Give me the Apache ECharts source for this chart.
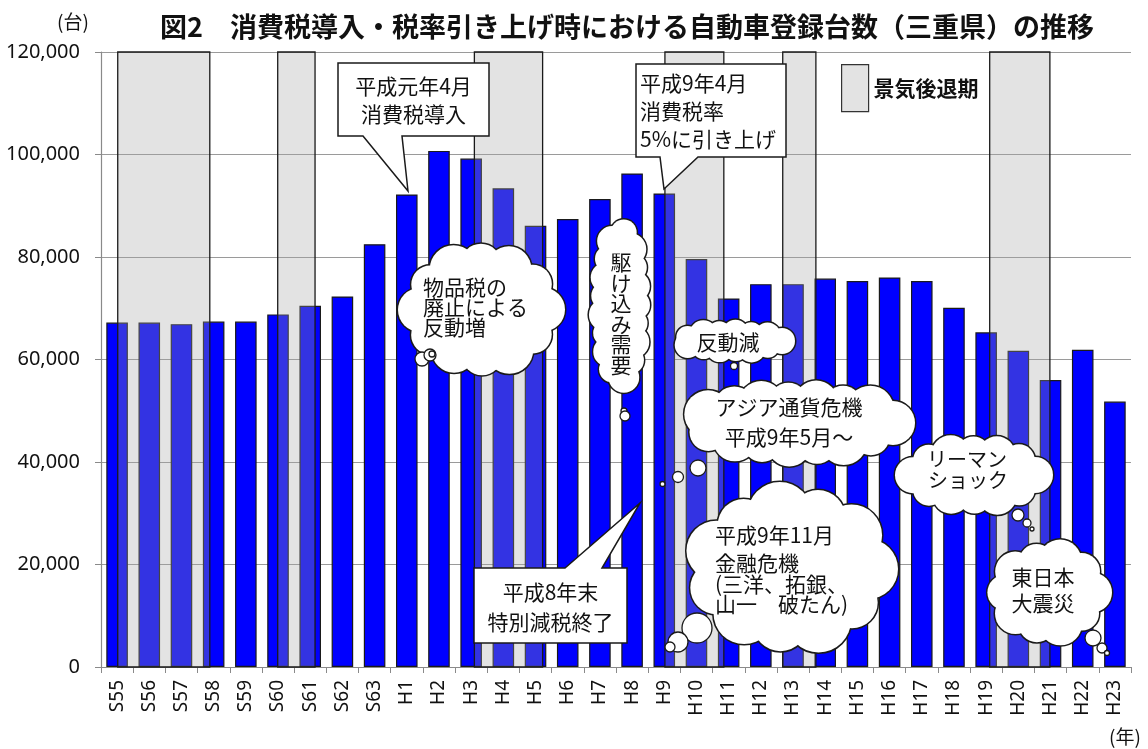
<!DOCTYPE html>
<html>
<head>
<meta charset="utf-8">
<script src="https://cdn.jsdelivr.net/npm/echarts@6/dist/echarts.min.js"></script>
<style>
  html, body { margin: 0; padding: 0; background: #fff; }
  #chart { width: 1148px; height: 749px; }
</style>
</head>
<body>
<div id="chart"></div>
<script>
// 年次（昭和55年〜平成23年）
const years = ['S55','S56','S57','S58','S59','S60','S61','S62','S63',
  'H1','H2','H3','H4','H5','H6','H7','H8','H9','H10','H11','H12','H13',
  'H14','H15','H16','H17','H18','H19','H20','H21','H22','H23'];

// 自動車登録台数（三重県, 台）
const registrations = [67200, 67200, 66900, 67400, 67400, 68800, 70500, 72300, 82500,
  92200, 100700, 99200, 93400, 86100, 87400, 91300, 96300, 92400, 79600, 71900, 74700, 74700,
  75800, 75300, 76000, 75300, 70100, 65300, 61700, 56000, 61900, 51800];

// 景気後退期（カテゴリ位置：開始, 終了）
const recessions = [[0.52, 3.38], [5.49, 6.65], [11.6, 13.72], [17.52, 19.35], [21.18, 22.21], [27.61, 29.48]];

// 縦軸の目盛
const yTicks = [0, 20000, 40000, 60000, 80000, 100000, 120000];

const JP = '"Noto Sans CJK JP", "Noto Sans", sans-serif';
const INK = '#111111';

// --- 雲形吹き出しの部品 ---
function cloud(x0, y0, x1, y1, r) {
  const cx = (x0 + x1) / 2, cy = (y0 + y1) / 2;
  const a = (x1 - x0) / 2 - r, b = (y1 - y0) / 2 - r;
  const N = 720, pts = [], len = [0];
  for (let i = 0; i <= N; i++) {
    const t = Math.PI * 2 * i / N;
    pts.push([cx + a * Math.cos(t), cy + b * Math.sin(t)]);
    if (i > 0) {
      const dx = pts[i][0] - pts[i - 1][0], dy = pts[i][1] - pts[i - 1][1];
      len.push(len[i - 1] + Math.sqrt(dx * dx + dy * dy));
    }
  }
  const total = len[N];
  const n = Math.max(5, Math.round(total / (r * 1.25)));
  const centers = [];
  let j = 0;
  for (let k = 0; k < n; k++) {
    const target = total * k / n;
    while (j < N && len[j + 1] < target) j++;
    centers.push(pts[j]);
  }
  const sizes = [1, 0.86, 1.08, 0.92, 1.02, 0.88];
  const els = [];
  centers.forEach((c, k) => {
    els.push({ type: 'circle', z: 100, silent: true,
      shape: { cx: c[0], cy: c[1], r: r * sizes[k % sizes.length] },
      style: { fill: '#fff', stroke: '#1a1a1a', lineWidth: 3 } });
  });
  centers.forEach((c, k) => {
    els.push({ type: 'circle', z: 101, silent: true,
      shape: { cx: c[0], cy: c[1], r: r * sizes[k % sizes.length] },
      style: { fill: '#fff' } });
  });
  els.push({ type: 'polygon', z: 101, silent: true,
    shape: { points: centers }, style: { fill: '#fff' } });
  return els;
}

function bubble(cx, cy, r) {
  return { type: 'circle', z: 102, silent: true, shape: { cx, cy, r },
    style: { fill: '#fff', stroke: '#1a1a1a', lineWidth: 1.3 } };
}

function label(text, x, y, align, size) {
  return { type: 'text', z: 110, silent: true, x, y,
    style: { text, font: (size || 21) + 'px ' + JP, fill: INK,
      textAlign: align || 'center', textVerticalAlign: 'middle',
      align: align || 'center', verticalAlign: 'middle' } };
}

function callout(points) {
  return { type: 'polygon', z: 90, silent: true, shape: { points },
    style: { fill: '#fff', stroke: '#1a1a1a', lineWidth: 1.5 } };
}

const graphics = [];

// 吹き出し（矩形）
graphics.push(callout([[338, 63], [489, 63], [489, 136], [402, 136], [408, 191], [363, 136], [338, 136]]));
graphics.push(label('平成元年4月', 413.5, 86), label('消費税導入', 413.5, 114));

graphics.push(callout([[636, 64], [786, 64], [786, 157], [698, 157], [664, 189], [660, 157], [636, 157]]));
graphics.push(label('平成9年4月', 640, 83, 'left'), label('消費税率', 640, 111, 'left'),
  label('5%に引き上げ', 640, 139, 'left'));

graphics.push(callout([[474, 568], [565, 568], [640, 503], [602, 568], [627, 568], [627, 643], [474, 643]]));
graphics.push(label('平成8年末', 550.5, 592), label('特別減税終了', 550.5, 622));

// 雲形吹き出し
graphics.push(...cloud(398, 242, 565, 377, 22));
graphics.push(bubble(422, 359, 7), bubble(430, 355, 6), bubble(432, 354, 3));
graphics.push(label('物品税の', 423, 287, 'left'), label('廃止による', 423, 307, 'left'),
  label('反動増', 423, 327, 'left'));

graphics.push(...cloud(590, 215, 650, 395, 15));
graphics.push(bubble(624, 411, 3), bubble(625, 416, 5));
['駆', 'け', '込', 'み', '需', '要'].forEach((ch, i) => graphics.push(label(ch, 621, 262 + i * 20.6)));

graphics.push(...cloud(668, 320, 795, 362, 13));
graphics.push(bubble(734, 366, 3.5));
graphics.push(label('反動減', 728, 342));

graphics.push(...cloud(677, 380, 915, 466, 22));
graphics.push(bubble(698, 468, 8), bubble(678, 477, 5.5), bubble(662.5, 484, 2.5));
graphics.push(label('アジア通貨危機', 789, 407), label('平成9年5月～', 789, 437));

graphics.push(...cloud(682, 484, 898, 654, 30));
graphics.push(bubble(697, 628, 15), bubble(678, 642, 10), bubble(670, 647, 5));
graphics.push(label('平成9年11月', 715, 535, 'left'), label('金融危機', 715, 563, 'left'),
  label('(三洋、拓銀、', 715, 584, 'left'), label('山一　破たん)', 715, 604, 'left'));

graphics.push(...cloud(895, 435, 1053, 515, 18));
graphics.push(bubble(1018, 515, 6), bubble(1027, 523, 4), bubble(1032, 529, 2));
graphics.push(label('リーマン', 967, 459, 'center', 20), label('ショック', 968, 480, 'center', 20));

graphics.push(...cloud(985, 540, 1112, 645, 20));
graphics.push(bubble(1093, 638, 8), bubble(1102, 648, 5), bubble(1107, 653, 2.5));
graphics.push(label('東日本', 1043, 577), label('大震災', 1043, 603));

// 単位
graphics.push(label('(台)', 73, 22, 'center', 19), label('(年)', 1125, 737, 'center', 19));

const chart = echarts.init(document.getElementById('chart'), null, { renderer: 'canvas' });

chart.setOption({
  animation: false,
  backgroundColor: '#fff',
  title: {
    text: '図2　消費税導入・税率引き上げ時における自動車登録台数（三重県）の推移',
    left: 160, top: 13, padding: 0,
    textStyle: { fontFamily: JP, fontSize: 27, fontWeight: 'bold', color: INK }
  },
  legend: {
    data: ['景気後退期'], left: 841, top: 64, padding: 0,
    icon: 'rect', itemWidth: 27, itemHeight: 47, itemGap: 0,
    itemStyle: { color: '#e3e3e3', borderColor: '#333', borderWidth: 1.2 },
    textStyle: { fontFamily: JP, fontSize: 21, fontWeight: 'bold', color: INK, padding: [0, 0, 0, 0] },
    selectedMode: false
  },
  grid: { left: 101, right: 17, top: 52, bottom: 82, containLabel: false },
  xAxis: [{
    type: 'category', data: years, boundaryGap: true,
    axisLine: { show: true, lineStyle: { color: '#8a8a8a', width: 1.2 } },
    axisTick: { show: true, length: 6, lineStyle: { color: '#8a8a8a' } },
    axisLabel: { rotate: 90, margin: 13, fontFamily: '"Noto Sans", sans-serif', fontSize: 19, color: INK }
  }, {
    type: 'value', min: 0, max: years.length, show: false
  }],
  yAxis: {
    type: 'value', min: yTicks[0], max: yTicks[yTicks.length - 1],
    interval: yTicks[1] - yTicks[0],
    axisLine: { show: true, lineStyle: { color: '#8a8a8a', width: 1.2 } },
    axisTick: { show: true, length: 6, lineStyle: { color: '#8a8a8a' } },
    axisLabel: { margin: 21, fontFamily: '"Noto Sans", sans-serif', fontSize: 20, color: INK,
      formatter: v => v.toLocaleString('en-US') },
    splitLine: { show: true, lineStyle: { color: '#9a9a9a', width: 1.2 } }
  },
  series: [{
    name: '登録台数', type: 'bar', data: registrations, barWidth: '67%', z: 2,
    itemStyle: { color: '#0000ff', borderColor: '#1a1a1a', borderWidth: 1.2 }
  }, {
    name: '景気後退期', type: 'custom', xAxisIndex: 1, yAxisIndex: 0, z: 3,
    data: recessions, encode: { x: [0, 1] },
    renderItem: function (params, api) {
      const p0 = api.coord([api.value(0), yTicks[yTicks.length - 1]]);
      const p1 = api.coord([api.value(1), 0]);
      return {
        type: 'rect',
        shape: { x: p0[0], y: p0[1], width: p1[0] - p0[0], height: p1[1] - p0[1] },
        style: { fill: 'rgba(165,165,165,0.31)', stroke: '#1a1a1a', lineWidth: 1.3 }
      };
    },
    itemStyle: { color: '#e3e3e3' }
  }],
  graphic: graphics
});
</script>
</body>
</html>
